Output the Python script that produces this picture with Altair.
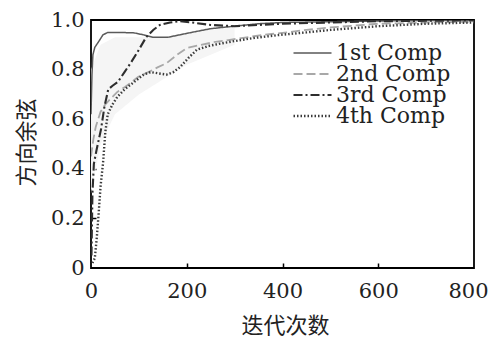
import altair as alt
import pandas as pd

series_names = ["1st Comp", "2nd Comp", "3rd Comp", "4th Comp"]

iter_1 = [0, 2, 4, 8, 15, 25, 35, 60, 90, 110, 130, 160, 185, 210, 250, 300, 350, 400, 500, 600, 700, 800]
val_1 = [0.62, 0.78, 0.86, 0.89, 0.91, 0.94, 0.95, 0.95, 0.948, 0.94, 0.93, 0.93, 0.94, 0.95, 0.965, 0.975, 0.985, 0.99, 0.993, 0.996, 0.998, 0.999]

iter_2 = [0, 5, 10, 15, 20, 30, 42, 55, 71, 85, 98, 120, 140, 158, 180, 200, 230, 255, 290, 325, 360, 395, 450, 500, 600, 700, 800]
val_2 = [0.45, 0.52, 0.57, 0.60, 0.63, 0.66, 0.685, 0.71, 0.73, 0.75, 0.77, 0.79, 0.81, 0.826, 0.86, 0.887, 0.90, 0.91, 0.92, 0.93, 0.94, 0.947, 0.96, 0.97, 0.985, 0.99, 0.993]

iter_3 = [1, 3, 6, 12, 21, 28, 36, 45, 56, 70, 84, 100, 115, 130, 144, 165, 186, 210, 250, 300, 350, 400, 500, 600, 700, 800]
val_3 = [0.05, 0.30, 0.42, 0.48, 0.56, 0.65, 0.72, 0.735, 0.75, 0.79, 0.83, 0.88, 0.93, 0.96, 0.98, 0.99, 0.995, 0.99, 0.98, 0.975, 0.98, 0.985, 0.99, 0.995, 0.997, 0.998]

iter_4 = [3, 8, 12, 16, 20, 25, 30, 35, 45, 55, 70, 90, 110, 125, 140, 158, 172, 186, 205, 221, 245, 270, 300, 338, 395, 450, 500, 600, 700, 800]
val_4 = [0.02, 0.04, 0.12, 0.22, 0.33, 0.42, 0.55, 0.62, 0.66, 0.69, 0.72, 0.75, 0.78, 0.79, 0.785, 0.78, 0.79, 0.81, 0.85, 0.88, 0.895, 0.905, 0.915, 0.927, 0.94, 0.95, 0.96, 0.975, 0.985, 0.99]

band_iter = [0, 20, 50, 100, 150, 200, 300]
band_low = [0.30, 0.50, 0.62, 0.70, 0.76, 0.82, 0.90]
band_high = [0.80, 0.90, 0.93, 0.93, 0.93, 0.95, 0.97]

x_ticks = [200, 400, 600]
y_ticks = [0.2, 0.4, 0.6, 0.8]

colors = ["#5a5a5a", "#a8a8a8", "#2e2e2e", "#3a3a3a"]
dashes = [[1, 0], [9, 4], [9, 3, 2, 3], [1.5, 2]]
widths = [1.5, 2.4, 1.5, 1.5]

rows = []
for name, its, vals in zip(series_names, [iter_1, iter_2, iter_3, iter_4], [val_1, val_2, val_3, val_4]):
    for i, v in zip(its, vals):
        rows.append({"iter": i, "cos": v, "comp": name})
df = pd.DataFrame(rows)

band_df = pd.DataFrame({"iter": band_iter, "lo": band_low, "hi": band_high})

SERIF = "DejaVu Serif"
CJK = "Noto Sans CJK SC"

x_scale = alt.Scale(domain=[0, 800], nice=False)
y_scale = alt.Scale(domain=[0, 1], nice=False)

W, H = 383, 248

band = alt.Chart(band_df).mark_area(color="#f5f5f5").encode(
    x=alt.X("iter:Q", scale=x_scale, axis=None),
    y=alt.Y("lo:Q", scale=y_scale, axis=None),
    y2="hi:Q",
)

tick_layer = alt.Chart(df).mark_line(opacity=0).encode(
    x=alt.X("iter:Q", scale=x_scale,
            axis=alt.Axis(orient="top", offset=-H, values=x_ticks, labels=False, domain=False,
                          ticks=True, tickSize=5, tickColor="black", tickWidth=1.5, grid=False, title=None)),
    y=alt.Y("cos:Q", scale=y_scale,
            axis=alt.Axis(orient="right", offset=-W, values=y_ticks, labels=False, domain=False,
                          ticks=True, tickSize=5, tickColor="black", tickWidth=1.5, grid=False, title=None)),
)

leg = alt.Legend(
    title=None, orient="none", legendX=201, legendY=23,
    symbolType="stroke", symbolSize=1444, clipHeight=20, rowPadding=-5,
    labelFont=SERIF, labelFontSize=22, labelColor="#222222",
    labelOffset=3, labelLimit=300, padding=0, symbolStrokeWidth=1.5,
)

lines = alt.Chart(df).mark_line(clip=True).encode(
    x=alt.X("iter:Q", scale=x_scale,
            axis=alt.Axis(orient="bottom", values=[0, 200, 400, 600, 800], ticks=False, domain=False,
                          grid=False, labelPadding=12, labelFlush=False,
                          labelOffset={"condition": {"test": "datum.value == 800", "value": -6}, "value": 0},
                          title="迭代次数", titleX=194, titleY=57, titleBaseline="middle", titleAlign="center")),
    y=alt.Y("cos:Q", scale=y_scale,
            axis=alt.Axis(orient="left", values=[0, 0.2, 0.4, 0.6, 0.8, 1.0], ticks=False, domain=False,
                          grid=False, labelPadding=7, labelFlush=False,
                          labelExpr="datum.value == 0 ? '0' : format(datum.value, '.1f')",
                          title="方向余弦", titleX=-65, titleY=122, titleBaseline="middle", titleAlign="center")),
    color=alt.Color("comp:N", scale=alt.Scale(domain=series_names, range=colors), legend=leg),
    strokeDash=alt.StrokeDash("comp:N", scale=alt.Scale(domain=series_names, range=dashes), legend=leg),
    strokeWidth=alt.StrokeWidth("comp:N", scale=alt.Scale(domain=series_names, range=widths), legend=leg),
)

chart = alt.layer(band, tick_layer, lines).resolve_axis(
    x="independent", y="independent"
).properties(
    width=W, height=H,
    autosize=alt.AutoSizeParams(type="none"),
    padding={"left": 83, "top": 12, "right": 15, "bottom": 69},
    background="white",
).configure_view(
    stroke="black", strokeWidth=1.8
).configure_axis(
    labelFont=SERIF, labelFontSize=21, labelColor="#222222",
    titleFont=CJK, titleFontSize=22, titleFontWeight="normal", titleColor="#222222",
)

chart.save("out.html", embed_options={"renderer": "svg", "actions": False})
